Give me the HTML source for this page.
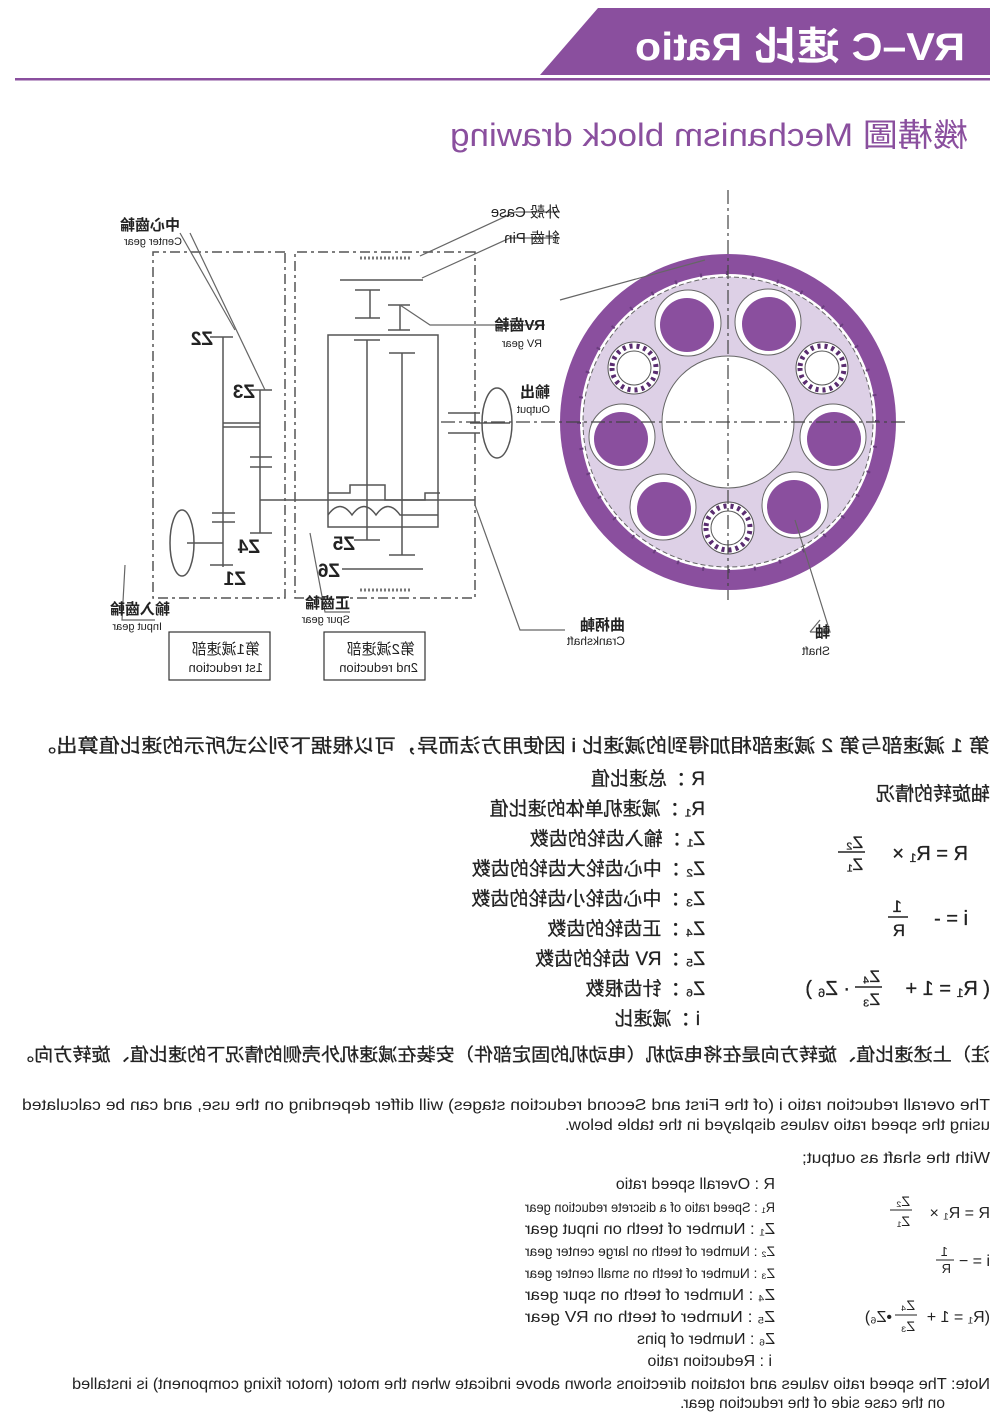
<!DOCTYPE html>
<html><head><meta charset="utf-8"><style>
html,body{margin:0;padding:0;background:#fff;}
svg{display:block;}
text{font-family:"Liberation Sans","Noto Sans CJK SC",sans-serif;fill:#222;}
</style></head><body>
<svg width="1000" height="1419" viewBox="0 0 1000 1419" xmlns="http://www.w3.org/2000/svg">
<g transform="translate(1000,0) scale(-1,1)">
<!-- header -->
<polygon points="10,8 402,8 460,75 10,75" fill="#8a4f9e"/>
<text x="35" y="60" font-size="39" font-weight="bold" style="fill:#fff" textLength="330" lengthAdjust="spacingAndGlyphs">RV–C 速比 Ratio</text>
<rect x="10" y="78" width="975" height="2.5" fill="#8a4f9e"/>
<text x="32" y="146" font-size="32" style="fill:#8a4f9e" textLength="518" lengthAdjust="spacingAndGlyphs">機構圖 Mechanism block drawing</text>

<!-- disk -->
<g>
<circle cx="272" cy="422" r="168" fill="#8a4f9e"/>
<circle cx="272" cy="422" r="148" fill="#fff"/>
<circle cx="272" cy="422" r="145" fill="#ddd0e6" stroke="#666" stroke-width="1" stroke-dasharray="5 3"/>
<circle cx="272" cy="422" r="149" fill="none" stroke="#6a3d7e" stroke-width="4" stroke-dasharray="2 24"/>
<circle cx="272" cy="422" r="66" fill="#fff" stroke="#666" stroke-width="1"/>
<g stroke="#666" stroke-width="1">
<circle cx="312" cy="323" r="33" fill="#fff"/><circle cx="232" cy="322" r="33" fill="#fff"/>
<circle cx="378" cy="437" r="33" fill="#fff"/><circle cx="167" cy="437" r="33" fill="#fff"/>
<circle cx="337" cy="507" r="33" fill="#fff"/><circle cx="205" cy="505" r="33" fill="#fff"/>
</g>
<g fill="#8a4f9e">
<circle cx="313" cy="325" r="27"/><circle cx="231" cy="324" r="27"/>
<circle cx="379" cy="439" r="27"/><circle cx="166" cy="439" r="27"/>
<circle cx="336" cy="509" r="27"/><circle cx="206" cy="507" r="27"/>
</g>
<g fill="#fff" stroke="#555" stroke-width="1">
<circle cx="366" cy="368" r="26"/><circle cx="178" cy="368" r="26"/><circle cx="272" cy="528" r="26"/>
</g>
<g fill="none" stroke="#5a2d70" stroke-width="5" stroke-dasharray="3 4">
<circle cx="366" cy="368" r="22"/><circle cx="178" cy="368" r="22"/><circle cx="272" cy="528" r="22"/>
</g>
<g fill="#fff" stroke="#555" stroke-width="1">
<circle cx="366" cy="368" r="17"/><circle cx="178" cy="368" r="17"/><circle cx="272" cy="528" r="17"/>
</g>
<line x1="95" y1="422" x2="560" y2="422" stroke="#444" stroke-width="1.2" stroke-dasharray="14 4 3 4"/>
<line x1="272" y1="190" x2="272" y2="600" stroke="#444" stroke-width="1.2" stroke-dasharray="14 4 3 4"/>
</g>

<!-- mechanism -->
<g stroke="#555" stroke-width="1.5" fill="none">
<rect x="715" y="252" width="132" height="346" stroke-dasharray="10 4 3 4"/>
<rect x="525" y="252" width="180" height="346" stroke-dasharray="10 4 3 4"/>
<line x1="777" y1="337" x2="777" y2="567"/>
<line x1="767" y1="337" x2="790" y2="337"/>
<line x1="740" y1="390" x2="740" y2="533"/>
<line x1="728" y1="390" x2="750" y2="390"/>
<line x1="740" y1="423" x2="777" y2="423"/><line x1="740" y1="427" x2="777" y2="427"/>
<line x1="728" y1="457" x2="750" y2="457"/><line x1="728" y1="467" x2="750" y2="467"/>
<line x1="765" y1="513" x2="788" y2="513"/><line x1="765" y1="522" x2="788" y2="522"/>
<line x1="777" y1="543" x2="813" y2="543"/>
<ellipse cx="818" cy="543" rx="12" ry="33"/>
<line x1="728" y1="533" x2="750" y2="533"/>
<line x1="767" y1="565" x2="790" y2="565"/>
<line x1="740" y1="500" x2="525" y2="500"/>
<rect x="562" y="335" width="110" height="192"/>
<line x1="633" y1="340" x2="633" y2="540"/><line x1="620" y1="540" x2="646" y2="540"/>
<line x1="598" y1="353" x2="598" y2="555"/><line x1="585" y1="555" x2="611" y2="555"/>
<line x1="620" y1="340" x2="646" y2="340"/><line x1="585" y1="353" x2="611" y2="353"/>
<path d="M672,493 H650 V485 H615 V500 H575 V493 H560"/>
<path d="M672,515 Q660,498 648,515 Q636,498 624,515 Q612,498 600,515 H562"/>
<line x1="577" y1="280" x2="660" y2="280"/>
<line x1="630" y1="290" x2="630" y2="318"/><line x1="620" y1="318" x2="645" y2="318"/><line x1="620" y1="290" x2="645" y2="290"/>
<line x1="600" y1="305" x2="600" y2="330"/><line x1="590" y1="305" x2="612" y2="305"/><line x1="590" y1="330" x2="612" y2="330"/>
<line x1="577" y1="569" x2="658" y2="569"/>
<ellipse cx="503" cy="423" rx="15" ry="35"/>
<line x1="490" y1="423" x2="530" y2="423"/>
<line x1="520" y1="413" x2="552" y2="413"/><line x1="520" y1="433" x2="552" y2="433"/>
</g>
<g stroke="#777" stroke-width="3" stroke-dasharray="2 2">
<line x1="590" y1="258" x2="642" y2="258"/><line x1="590" y1="590" x2="642" y2="590"/>
</g>
<!-- leaders -->
<g stroke="#666" stroke-width="1.2" fill="none">
<path d="M820,233 L765,330"/><path d="M810,233 L735,390"/>
<path d="M440,212 H485 L580,256"/><path d="M440,238 H490 L578,278"/>
<path d="M455,325 H570 L600,305"/>
<path d="M440,300 L295,260" />
<path d="M435,630 H480 L525,505"/>
<path d="M845,620 H878 L875,565"/>
<path d="M650,612 H675 L690,533"/>
<path d="M190,632 H170 L205,520"/>
<path d="M190,632 L180,620"/>
</g>
<!-- diagram labels -->
<g font-weight="bold">
<text x="787" y="345" font-size="19">Z2</text>
<text x="745" y="398" font-size="19">Z3</text>
<text x="740" y="553" font-size="19">Z4</text>
<text x="754" y="585" font-size="19">Z1</text>
<text x="645" y="550" font-size="19">Z5</text>
<text x="660" y="577" font-size="19">Z6</text>
</g>
<g font-size="15">
<text x="820" y="230" font-weight="bold">中心齒輪</text>
<text x="818" y="245" font-size="11">Center gear</text>
<text x="830" y="614" font-weight="bold">輸入齒輪</text>
<text x="838" y="630" font-size="11">Input gear</text>
<text x="650" y="608" font-weight="bold">正齒輪</text>
<text x="650" y="623" font-size="11">Spur gear</text>
<text x="440" y="217">外殼 Case</text>
<text x="440" y="243">針齒 Pin</text>
<text x="455" y="330" font-weight="bold">RV齒輪</text>
<text x="458" y="347" font-size="11">RV gear</text>
<text x="450" y="397" font-weight="bold">輸出</text>
<text x="450" y="413" font-size="11">Output</text>
<text x="375" y="630" font-weight="bold">曲柄軸</text>
<text x="375" y="645" font-size="12">Crankshaft</text>
<text x="170" y="637" font-weight="bold">軸</text>
<text x="170" y="655" font-size="12">Shaft</text>
</g>
<g stroke="#333" stroke-width="1.2" fill="none">
<rect x="730" y="632" width="101" height="48"/>
<rect x="575" y="632" width="101" height="48"/>
</g>
<text x="740" y="654" font-size="15">第1減速部</text>
<text x="737" y="672" font-size="13">1st reduction</text>
<text x="585" y="654" font-size="15">第2減速部</text>
<text x="582" y="672" font-size="13">2nd reduction</text>

<!-- Chinese text -->
<text x="10" y="752" font-size="19" textLength="955" lengthAdjust="spacingAndGlyphs" stroke="#222" stroke-width="0.3">第 1 減速部与第 2 減速部相加得到的減速比 i 因使用方法而异，可以根据下列公式所示的速比值算出。</text>
<text x="10" y="800" font-size="19" stroke="#222" stroke-width="0.3">轴旋转的情况</text>
<g font-size="19" stroke="#222" stroke-width="0.3">
<text x="295" y="785">R  ：总速比值</text>
<text x="295" y="815">R₁ ：减速机单体的速比值</text>
<text x="295" y="845">Z₁ ：输入齿轮的齿数</text>
<text x="295" y="875">Z₂ ：中心齿轮大齿轮的齿数</text>
<text x="295" y="905">Z₃ ：中心齿轮小齿轮的齿数</text>
<text x="295" y="935">Z₄ ：正齿轮的齿数</text>
<text x="295" y="965">Z₅ ：RV 齿轮的齿数</text>
<text x="295" y="995">Z₆ ：针齿根数</text>
<text x="300" y="1025">i   ：减速比</text>
</g>
<g font-size="20" stroke="#222" stroke-width="0.3">
<text x="32" y="860">R = R₁ ×</text>
<text x="137" y="848" font-size="17">Z₂</text><line x1="135" y1="852" x2="162" y2="852" stroke="#222" stroke-width="1.5"/><text x="137" y="870" font-size="17">Z₁</text>
<text x="32" y="925">i = -</text>
<text x="98" y="912" font-size="17">1</text><line x1="92" y1="917" x2="112" y2="917" stroke="#222" stroke-width="1.5"/><text x="95" y="936" font-size="17">R</text>
<text x="10" y="995">( R₁ = 1 +</text>
<text x="120" y="982" font-size="17">Z₄</text><line x1="118" y1="987" x2="145" y2="987" stroke="#222" stroke-width="1.5"/><text x="120" y="1005" font-size="17">Z₃</text>
<text x="150" y="995">· Z₆ )</text>
</g>
<text x="10" y="1061" font-size="18" textLength="975" lengthAdjust="spacingAndGlyphs" stroke="#222" stroke-width="0.3">注）上述速比值、旋转方向是在将电动机（电动机的固定部件）安装在减速机外壳侧的情况下的速比值、旋转方向。</text>

<!-- English -->
<g font-size="16">
<text x="10" y="1110" textLength="968" lengthAdjust="spacingAndGlyphs">The overall reduction ratio i (of the First and Second reduction stages) will differ depending on the use, and can be calculated</text>
<text x="10" y="1130" textLength="425" lengthAdjust="spacingAndGlyphs">using the speed ratio values displayed in the table below.</text>
<text x="10" y="1163" textLength="188" lengthAdjust="spacingAndGlyphs">With the shaft as output;</text>
<text x="225" y="1189">R  : Overall speed ratio</text>
<text x="225" y="1212" font-size="14" textLength="250" lengthAdjust="spacingAndGlyphs">R₁ : Speed ratio of a discrete reduction gear</text>
<text x="225" y="1234" textLength="250" lengthAdjust="spacingAndGlyphs">Z₁ : Number of teeth on input gear</text>
<text x="225" y="1256" font-size="14" textLength="250" lengthAdjust="spacingAndGlyphs">Z₂ : Number of teeth on large center gear</text>
<text x="225" y="1278" font-size="14" textLength="250" lengthAdjust="spacingAndGlyphs">Z₃ : Number of teeth on small center gear</text>
<text x="225" y="1300" textLength="250" lengthAdjust="spacingAndGlyphs">Z₄ : Number of teeth on spur gear</text>
<text x="225" y="1322" textLength="250" lengthAdjust="spacingAndGlyphs">Z₅ : Number of teeth on RV gear</text>
<text x="225" y="1344">Z₆ : Number of pins</text>
<text x="228" y="1366">i   : Reduction ratio</text>
<text x="10" y="1389" textLength="918" lengthAdjust="spacingAndGlyphs">Note: The speed ratio values and rotation directions shown above indicate when the motor (motor fixing component) is installed</text>
<text x="55" y="1408" textLength="265" lengthAdjust="spacingAndGlyphs">on the case side of the reduction gear.</text>
</g>
<g font-size="16">
<text x="10" y="1218">R = R₁ ×</text>
<text x="90" y="1206" font-size="14">Z₂</text><line x1="88" y1="1210" x2="110" y2="1210" stroke="#222"/><text x="90" y="1226" font-size="14">Z₁</text>
<text x="10" y="1266">i = −</text>
<text x="52" y="1256" font-size="13">1</text><line x1="46" y1="1260" x2="64" y2="1260" stroke="#222"/><text x="49" y="1273" font-size="13">R</text>
<text x="10" y="1322">(R₁ = 1 +</text>
<text x="85" y="1310" font-size="14">Z₄</text><line x1="83" y1="1315" x2="105" y2="1315" stroke="#222"/><text x="85" y="1331" font-size="14">Z₃</text>
<text x="108" y="1322">•Z₆)</text>
</g>
</g>
</svg>
</body></html>
